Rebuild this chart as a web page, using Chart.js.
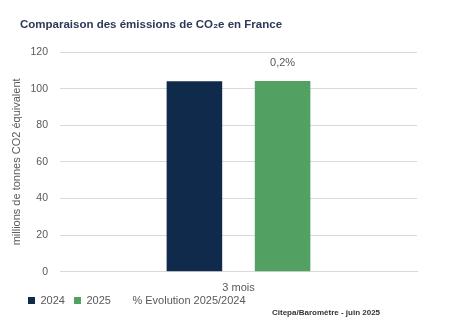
<!DOCTYPE html>
<html>
<head>
<meta charset="utf-8">
<script src="https://cdn.jsdelivr.net/npm/chart.js@4"></script>
<style>
html,body{margin:0;padding:0;background:#fff;}
#wrap{width:460px;height:335px;position:relative;}
</style>
</head>
<body>
<div id="wrap"><canvas id="c" width="460" height="335"></canvas></div>
<script>
const categories = ["3 mois"];
const values2024 = [104.0];
const values2025 = [104.2];
const evolutionLabels = ["0,2%"];
const yTicks = [0, 20, 40, 60, 80, 100, 120];
const titleText = 'Comparaison des émissions de CO₂e en France';
const sourceText = 'Citepa/Baromètre - juin 2025';

const FONT = "'Liberation Sans', Arial, sans-serif";
const GREY = "#595959";

const evoLabelPlugin = {
  id: 'evoLabel',
  afterDatasetsDraw(chart) {
    const ctx = chart.ctx;
    const meta = chart.getDatasetMeta(1);
    ctx.save();
    ctx.font = "11px " + FONT;
    ctx.fillStyle = GREY;
    ctx.textAlign = 'center';
    ctx.textBaseline = 'middle';
    meta.data.forEach((bar, i) => {
      ctx.fillText(evolutionLabels[i], bar.x, bar.y - 18);
    });
    ctx.restore();
  }
};

const textPlugin = {
  id: 'texts',
  afterDraw(chart) {
    const ctx = chart.ctx;
    ctx.save();
    ctx.textAlign = 'left';
    ctx.textBaseline = 'middle';
    ctx.font = "bold 11.5px " + FONT;
    ctx.fillStyle = "#2d3a55";
    ctx.fillText(titleText, 20, 25);
    ctx.font = "bold 8px " + FONT;
    ctx.fillStyle = "#333333";
    ctx.fillText(sourceText, 272, 313);
    ctx.restore();
  }
};

// move the legend up/right so it sits just under the category label
const legendShift = {
  id: 'legendShift',
  afterLayout(chart) {
    const lg = chart.legend;
    if (!lg) return;
    lg.top -= 19; lg.bottom -= 19;
    lg.left += 11; lg.right += 11;
  }
};

new Chart(document.getElementById('c'), {
  type: 'bar',
  data: {
    labels: categories,
    datasets: [
      { label: '2024', data: values2024, backgroundColor: '#0f2a4b', barPercentage: 0.63, categoryPercentage: 0.494 },
      { label: '2025', data: values2025, backgroundColor: '#52a162', barPercentage: 0.63, categoryPercentage: 0.494 },
      { label: '% Evolution 2025/2024', type: 'line', data: [null], borderColor: 'rgba(0,0,0,0)', backgroundColor: 'rgba(0,0,0,0)', pointRadius: 0 }
    ]
  },
  plugins: [evoLabelPlugin, textPlugin, legendShift],
  options: {
    responsive: false,
    animation: false,
    layout: { padding: { top: 52, left: 8, right: 43, bottom: 0 } },
    plugins: {
      title: { display: false },
      legend: {
        position: 'bottom',
        align: 'start',
        labels: {
          color: GREY,
          font: { family: FONT, size: 11 },
          boxWidth: 7,
          boxHeight: 7,
          padding: 9,
          generateLabels(chart) {
            return chart.data.datasets.map((ds, i) => ({
              text: ds.label,
              fillStyle: i === 2 ? 'rgba(0,0,0,0)' : ds.backgroundColor,
              strokeStyle: 'rgba(0,0,0,0)',
              lineWidth: 0,
              datasetIndex: i,
              fontColor: GREY
            }));
          }
        }
      },
      tooltip: { enabled: false }
    },
    scales: {
      x: {
        grid: { display: false, drawTicks: false },
        border: { color: '#d9d9d9' },
        ticks: { color: GREY, font: { family: FONT, size: 11 }, padding: 10 }
      },
      y: {
        min: 0, max: 120,
        afterBuildTicks(scale) { scale.ticks = yTicks.map(v => ({ value: v })); },
        afterFit(scale) { scale.width = 52; },
        grid: { color: '#d9d9d9', drawTicks: false },
        border: { display: false },
        ticks: { color: GREY, font: { family: FONT, size: 10.5 }, padding: 12 },
        title: { display: true, text: 'millions de tonnes CO2 équivalent', color: GREY, font: { family: FONT, size: 11 }, padding: { top: 2, bottom: 0 } }
      }
    }
  }
});
</script>
</body>
</html>
